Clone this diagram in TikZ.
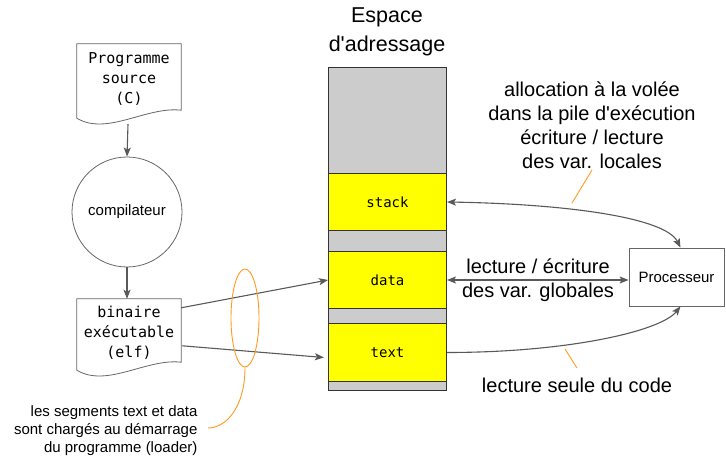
\documentclass[tikz,border=0pt]{standalone}
\usepackage{fontspec}
\setmainfont{Liberation Sans}[Ligatures=TeXOff]
\newfontfamily\monof{DejaVu Sans Mono}
\usetikzlibrary{arrows.meta,calc,shapes.geometric}
\definecolor{memgray}{HTML}{CCCCCC}
\definecolor{memyel}{HTML}{FFFF00}
\definecolor{arrgray}{HTML}{595959}
\definecolor{orng}{HTML}{FF9A1F}
\definecolor{boxline}{HTML}{333333}
\definecolor{shapeline}{HTML}{666666}
\tikzset{
  seg/.style={draw=boxline, line width=1pt, minimum width=118pt, anchor=north west, inner sep=0pt, font=\monof\fontsize{14}{16}\selectfont},
  graybox/.style={seg, fill=memgray},
  yelbox/.style={seg, fill=memyel},
  docnode/.style={inner sep=0pt, minimum width=104pt, align=center, font=\monof\fontsize{15}{20}\selectfont},
  docline/.style={draw=shapeline, line width=0.8pt, fill=white},
  conn/.style={draw=arrgray, line width=1.1pt, -{Stealth[length=9pt,width=7pt,inset=2pt]}},
  dconn/.style={draw=arrgray, line width=1.1pt, {Stealth[length=9pt,width=7pt,inset=2pt]}-{Stealth[length=9pt,width=7pt,inset=2pt]}},
  big/.style={align=center, font=\fontsize{20}{24}\selectfont},
  orline/.style={draw=orng, line width=0.9pt},
}
\newcommand\mydoc[1]{\draw[docline] (#1.north west) -- (#1.north east) -- ($(#1.south east)+(0,-8)$) .. controls ($(#1.south east)+(-35,-12)$) and ($(#1.south west)+(30,18)$) .. (#1.south west) -- cycle;}
\begin{document}
\begin{tikzpicture}[x=1pt,y=-1pt]
\useasboundingbox (0,0) rectangle (726,457);
% title
\node[align=center, font=\fontsize{21.5}{29}\selectfont] (title) at (387,32) {Espace\\d'adressage};
% memory column
\node[graybox, minimum height=106pt] (free) at (328,67) {};
\node[yelbox, minimum height=57pt] (stack) at (328,173) {stack};
\node[graybox, minimum height=21pt] (g1) at (328,230) {};
\node[yelbox, minimum height=57pt] (data) at (328,251) {data};
\node[graybox, minimum height=15pt] (g2) at (328,308) {};
\node[yelbox, minimum height=58pt] (text) at (328,323) {text};
\node[graybox, minimum height=9pt] (g3) at (328,381) {};
% documents
\node[docnode, minimum height=74pt] (src) at (129,81) {};
\mydoc{src}
\node[docnode] (srct) at (129,79) {Programme\\source\\(C)};
\node[docnode, minimum height=71pt] (bin) at (129,334.5) {};
\mydoc{bin}
\node[docnode] (bint) at (129,333) {binaire\\exécutable\\(elf)};
% compiler
\node[circle, draw=shapeline, line width=0.8pt, minimum size=110pt, inner sep=0pt, font=\fontsize{15}{18}\selectfont] (comp) at (127,212) {compilateur};
% processor
\node[draw=shapeline, line width=0.8pt, minimum width=95pt, minimum height=58pt, inner sep=0pt, font=\fontsize{15}{18}\selectfont] (proc) at (676.5,277) {Processeur};
% connectors
\draw[conn] ($(src.south)+(-1,6)$) -- (comp.north);
\draw[conn] (comp.south) -- (comp.south |- bin.north);
\draw[conn] ($(bin.north east)+(0,9)$) -- (data.west);
\draw[conn] ($(bin.north east)+(1,47)$) -- ($(text.west)+(-4,5)$);
\draw[dconn] (stack.east) .. controls +(120,2) and +(-15,-30) .. ([xshift=4pt]proc.north);
\draw[dconn] (data.east) -- (data.east -| proc.west);
\draw[conn] (text.east) .. controls +(120,0) and +(-20,25) .. ([xshift=4pt]proc.south);
% labels
\node[big] (lstack) at (592,125) {allocation à la volée\\dans la pile d'exécution\\écriture / lecture\\des var. locales};
\node[big] (ldata) at (538,280) {lecture / écriture\\des var. globales};
\node[big] (ltext) at (577,385) {lecture seule du code};
\coordinate (os1) at (592,170);
\coordinate (os2) at (572,203);
\draw[orline] (os1) -- (os2);
\coordinate (ot1) at (577,368);
\coordinate (ot2) at (565,349);
\draw[orline] (ot1) -- (ot2);
% loader note
\node[orline, ellipse, minimum width=28pt, minimum height=98pt, inner sep=0pt] (ell) at (245,318) {};
\node[align=right, anchor=east, font=\fontsize{15}{18}\selectfont] (note) at (201,431) {les segments text et data\\sont chargés au démarrage\\du programme (loader)};
\draw[orline] (ell.south) .. controls +(0,40) and +(18,0) .. ($(note.east)+(7,-3)$);
\end{tikzpicture}
\end{document}
